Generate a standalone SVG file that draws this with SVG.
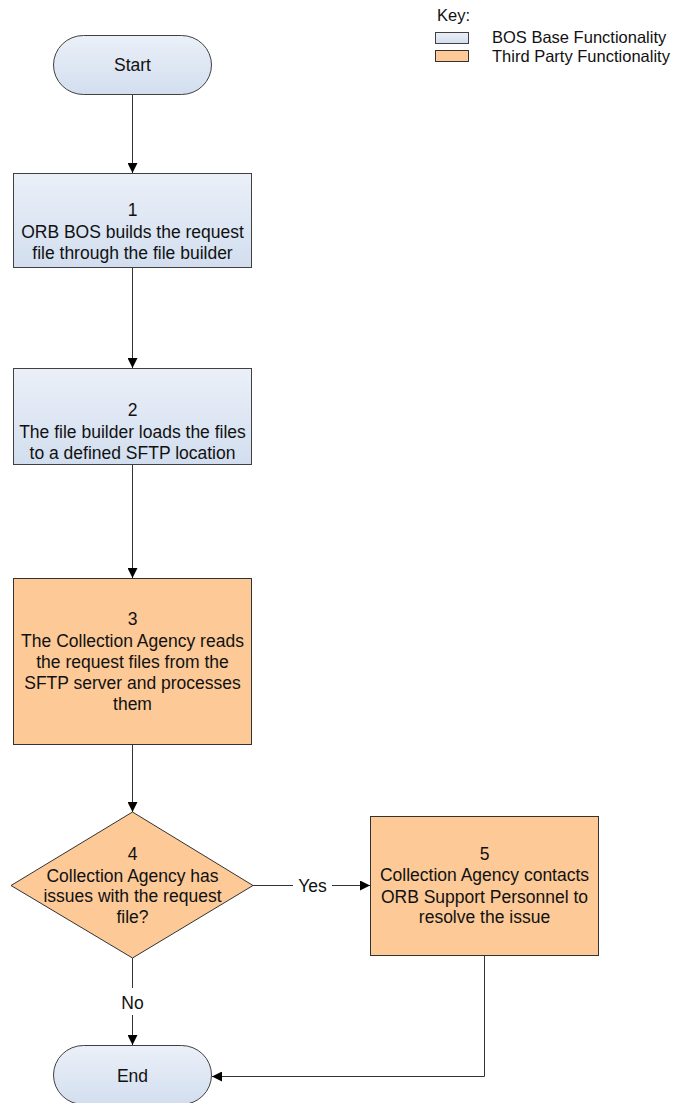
<svg xmlns="http://www.w3.org/2000/svg" width="684" height="1103" viewBox="0 0 684 1103">
<style>
  text { font-family: "Liberation Sans", Arial, sans-serif; font-size: 17.5px; fill: #111; text-anchor: middle; }
  .key { font-size: 16.5px; text-anchor: start; }
  .blue { fill: url(#gblue); stroke: #404040; stroke-width: 1; }
  .orange { fill: #fcc997; stroke: #333; stroke-width: 1; }
  .conn { fill: none; stroke: #333; stroke-width: 1; }
</style>
<defs>
  <linearGradient id="gblue" x1="0" y1="0" x2="0" y2="1">
    <stop offset="0" stop-color="#ebf0f8"/>
    <stop offset="1" stop-color="#d2deef"/>
  </linearGradient>
  <marker id="arr" viewBox="0 0 10 10" refX="10" refY="5" markerWidth="10" markerHeight="10" markerUnits="userSpaceOnUse" orient="auto">
    <path d="M0,0 L10,5 L0,10 z" fill="#000"/>
  </marker>
</defs>

<g id="legend">
  <text class="key" x="437" y="21">Key:</text>
  <rect x="435.5" y="32.5" width="33" height="11" class="blue"/>
  <text class="key" x="492" y="43">BOS Base Functionality</text>
  <rect x="435.5" y="50.5" width="33" height="11" class="orange"/>
  <text class="key" x="492" y="62">Third Party Functionality</text>
</g>

<g id="connectors">
  <line class="conn" x1="132.5" y1="95" x2="132.5" y2="173" marker-end="url(#arr)"/>
  <line class="conn" x1="132.5" y1="268" x2="132.5" y2="368" marker-end="url(#arr)"/>
  <line class="conn" x1="132.5" y1="465" x2="132.5" y2="578" marker-end="url(#arr)"/>
  <line class="conn" x1="132.5" y1="745" x2="132.5" y2="812" marker-end="url(#arr)"/>
  <line class="conn" x1="253" y1="885.5" x2="293" y2="885.5"/>
  <line class="conn" x1="332" y1="885.5" x2="370" y2="885.5" marker-end="url(#arr)"/>
  <text x="312.5" y="892">Yes</text>
  <line class="conn" x1="132.5" y1="958" x2="132.5" y2="988"/>
  <line class="conn" x1="132.5" y1="1015" x2="132.5" y2="1045" marker-end="url(#arr)"/>
  <text x="132.5" y="1009">No</text>
  <polyline class="conn" points="484.5,955 484.5,1076.5 212,1076.5" marker-end="url(#arr)"/>
</g>

<g id="start">
  <rect x="53.5" y="35.5" width="158" height="59" rx="30" ry="29.5" class="blue"/>
  <text x="132.5" y="71">Start</text>
</g>

<g id="step1">
  <rect x="13.5" y="173.5" width="238" height="94" class="blue"/>
  <text x="132.5" y="216">1</text>
  <text x="132.5" y="237.5">ORB BOS builds the request</text>
  <text x="132.5" y="259">file through the file builder</text>
</g>

<g id="step2">
  <rect x="13.5" y="368.5" width="238" height="96" class="blue"/>
  <text x="132.5" y="416">2</text>
  <text x="132.5" y="437.5">The file builder loads the files</text>
  <text x="132.5" y="459">to a defined SFTP location</text>
</g>

<g id="step3">
  <rect x="13.5" y="578.5" width="238" height="166" class="orange"/>
  <text x="132.5" y="625">3</text>
  <text x="132.5" y="646.5">The Collection Agency reads</text>
  <text x="132.5" y="668">the request files from the</text>
  <text x="132.5" y="689">SFTP server and processes</text>
  <text x="132.5" y="710">them</text>
</g>

<g id="step4">
  <polygon points="132.5,812 253,885.5 132.5,958 11,885.5" class="orange"/>
  <text x="132.5" y="860">4</text>
  <text x="132.5" y="881.5">Collection Agency has</text>
  <text x="132.5" y="902">issues with the request</text>
  <text x="132.5" y="923">file?</text>
</g>

<g id="step5">
  <rect x="370.5" y="816.5" width="228" height="139" class="orange"/>
  <text x="484.5" y="860">5</text>
  <text x="484.5" y="881">Collection Agency contacts</text>
  <text x="484.5" y="902.5">ORB Support Personnel to</text>
  <text x="484.5" y="923">resolve the issue</text>
</g>

<g id="end">
  <rect x="53.5" y="1045.5" width="158" height="59" rx="30" ry="29.5" class="blue"/>
  <text x="132.5" y="1082">End</text>
</g>
</svg>
